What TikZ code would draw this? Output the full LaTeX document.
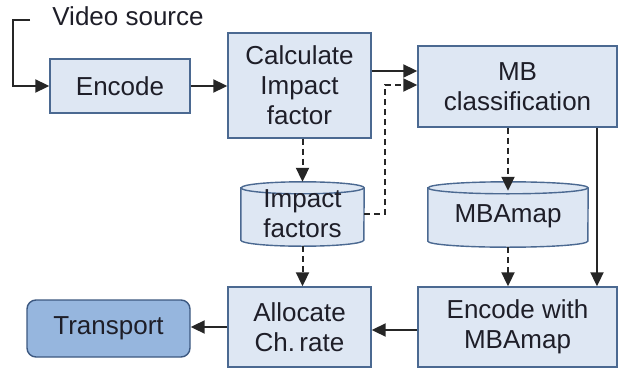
\documentclass[tikz,border=0pt]{standalone}
\usepackage{fontspec}
\setmainfont{Liberation Sans}
\usetikzlibrary{arrows.meta}
\definecolor{boxfill}{RGB}{222,231,243}
\definecolor{boxline}{RGB}{75,105,145}
\definecolor{darkfill}{RGB}{150,182,222}
\definecolor{darkline}{RGB}{60,88,128}
\definecolor{txt}{RGB}{30,30,40}
\tikzset{
  x=1pt,y=1pt,
  lbl/.style={font=\fontsize{26}{30}\selectfont, text=txt, align=center, inner sep=0pt},
  blk/.style={lbl, draw=boxline, fill=boxfill, line width=1.4pt, minimum width=#1},
  cylnode/.style={lbl, draw=none, minimum width=#1},
  tbox/.style={lbl, draw=darkline, fill=darkfill, line width=1.4pt, rounded corners=9pt},
  cylpaint/.style={draw=boxline, fill=boxfill, line width=1.4pt},
  conn/.style={line width=2pt, draw=black!85, -{Triangle[length=14pt,width=13pt]}},
  dconn/.style={conn, dash pattern=on 6pt off 4pt},
}
\newcommand\cylshape[2]{%
  \path[cylpaint] ([yshift=-6pt]#1.north west) -- ([yshift=6pt]#1.south west)
     arc[start angle=180,end angle=360,x radius=#2,y radius=6pt]
     -- ([yshift=-6pt]#1.north east)
     arc[start angle=0,end angle=180,x radius=#2,y radius=6pt] -- cycle;
  \draw[boxline, line width=1.4pt] ([yshift=-6pt]#1.north west)
     arc[start angle=180,end angle=360,x radius=#2,y radius=6pt];
}
\begin{document}
\begin{tikzpicture}
\useasboundingbox (0,0) rectangle (618,368);
% nodes
\node[blk=140pt, minimum height=54pt] (enc) at (120,282) {Encode};
\node[blk=143pt, minimum height=105pt] (calc) at (299.5,282.5) {Calculate\\Impact\\factor};
\node[blk=199pt, minimum height=81pt] (mb) at (517.5,281.5) {MB\\classification};
\node[cylnode=123pt, minimum height=64pt] (imp) at (302.5,154) {};
\node[cylnode=160pt, minimum height=65pt] (map) at (508,153.5) {};
\node[blk=143pt, minimum height=80pt] (alloc) at (299.5,41) {Allocate\\Ch.\,rate};
\node[blk=199pt, minimum height=80pt] (encmb) at (517.5,41) {Encode with\\MBAmap};
\node[tbox, minimum width=163pt, minimum height=57pt] (tr) at (108.5,39.5) {Transport};
\node[lbl, anchor=base] (vs) at (128,343) {Video source};
% cylinders
\cylshape{imp}{61.5pt}
\cylshape{map}{80pt}
\node[lbl] (impt) at (imp) {Impact\\factors};
\node[lbl] (mapt) at ([yshift=-2pt]map.center) {MBAmap};
% connectors
\coordinate (vsa) at (30,348);
\draw[conn] (vsa) -- (13,348) |- (enc.west);
\draw[conn] (enc.east) -- (enc.east -| calc.west);
\draw[conn] ([yshift=14.5pt]calc.east) -- ([yshift=14.5pt]calc.east -| mb.west);
\draw[dconn] (imp.east) -- ++(21,0) |- ([yshift=1.5pt]mb.west);
\draw[dconn] (calc.south -| imp.north) -- (imp.north);
\draw[dconn] (imp.south) -- (imp.south |- alloc.north);
\draw[dconn] (mb.south -| map.north) -- ([yshift=-9pt]map.north);
\draw[dconn] (map.south) -- (map.south |- encmb.north);
\draw[conn] (mb.south -| 597,0) -- (encmb.north -| 597,0);
\draw[conn] ([yshift=-3pt]encmb.west) -- ([yshift=-3pt]alloc.east);
\draw[conn] (alloc.west) -- (alloc.west -| tr.east);
\end{tikzpicture}
\end{document}
